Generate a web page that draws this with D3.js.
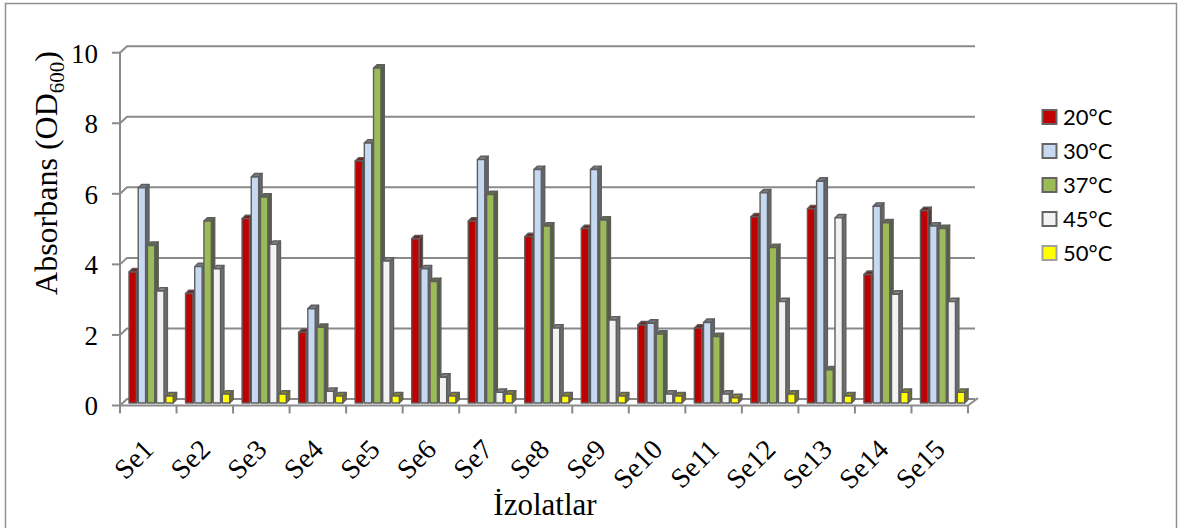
<!DOCTYPE html>
<html>
<head>
<meta charset="utf-8">
<script src="https://cdn.jsdelivr.net/npm/d3@7/dist/d3.min.js"></script>
<style>
  html, body { margin: 0; padding: 0; background: #ffffff; }
  svg { display: block; }
</style>
</head>
<body>
<svg id="chart" width="1178" height="528"></svg>
<script>
// Isolates and incubation temperatures
const categories = ["Se1","Se2","Se3","Se4","Se5","Se6","Se7","Se8","Se9","Se10","Se11","Se12","Se13","Se14","Se15"];
const seriesNames = ["20°C","30°C","37°C","45°C","50°C"];

// Absorbance (OD600) per isolate, one array per temperature
const od20 = [3.71, 3.10, 5.22, 2.00, 6.85, 4.65, 5.15, 4.71, 4.94, 2.21, 2.12, 5.27, 5.50, 3.64, 5.45];
const od30 = [6.09, 3.86, 6.40, 2.67, 7.36, 3.80, 6.89, 6.61, 6.61, 2.26, 2.28, 5.95, 6.28, 5.57, 5.01];
const od37 = [4.46, 5.15, 5.83, 2.14, 9.48, 3.44, 5.90, 5.01, 5.18, 1.95, 1.88, 4.40, 0.94, 5.10, 4.94];
const od45 = [3.17, 3.80, 4.49, 0.33, 4.02, 0.73, 0.30, 2.12, 2.35, 0.25, 0.25, 2.87, 5.24, 3.08, 2.87];
const od50 = [0.20, 0.25, 0.25, 0.20, 0.20, 0.20, 0.25, 0.20, 0.20, 0.20, 0.15, 0.25, 0.20, 0.30, 0.30];

const yTicks = [0, 2, 4, 6, 8, 10];
const seriesColors = ["#c00000", "#c6d9f1", "#9bbb59", "#f2f2f2", "#ffff00"];

const seriesValues = [od20, od30, od37, od45, od50];

const svg = d3.select("#chart");
const serif = "'Liberation Serif', 'Times New Roman', serif";
const gridColor = "#8a8a8a";

// Outer frame (left, top, right)
svg.append("path")
  .attr("d", "M5.5,530 L5.5,3.5 L1176.5,3.5 L1176.5,530")
  .attr("fill", "none").attr("stroke", "#8f8f8f").attr("stroke-width", 1.5);

// Scales
const x = d3.scaleBand().domain(categories).range([120, 968]);
const xs = d3.scaleBand().domain(seriesNames).range([9, 55]);
const yAxisScale = d3.scaleLinear().domain([0, 10]).range([405.5, 52.7]);
const yBar = d3.scaleLinear().domain([0, 10]).range([403, 49.8]);

// Depth of the back wall relative to the front axis
const DX = 7, DY = -6.5;
const xLeft = x.range()[0], xRight = x.range()[1];

// Back wall gridlines with the side-wall diagonals
const grid = svg.append("g").attr("fill", "none").attr("stroke", gridColor).attr("stroke-width", 2);
yTicks.forEach(t => {
  const yf = yAxisScale(t);
  grid.append("path")
    .attr("d", `M${xLeft},${yf} L${xLeft + DX},${yf + DY} L${xRight + DX},${yf + DY}`);
});
// Floor right edge
grid.append("path")
  .attr("d", `M${xRight},${yAxisScale(0)} L${xRight + DX + 3},${yAxisScale(0) + DY - 1}`);

// Front axes
const axes = svg.append("g").attr("stroke", gridColor).attr("stroke-width", 2).attr("fill", "none");
axes.append("line")
  .attr("x1", xLeft).attr("x2", xLeft)
  .attr("y1", yAxisScale(10)).attr("y2", yAxisScale(0));
axes.append("line")
  .attr("x1", xLeft).attr("x2", xRight)
  .attr("y1", yAxisScale(0)).attr("y2", yAxisScale(0));
yTicks.forEach(t => {
  axes.append("line")
    .attr("x1", xLeft - 8).attr("x2", xLeft)
    .attr("y1", yAxisScale(t)).attr("y2", yAxisScale(t));
});
d3.range(categories.length + 1).forEach(i => {
  const xx = xLeft + i * x.step();
  axes.append("line")
    .attr("x1", xx).attr("x2", xx)
    .attr("y1", yAxisScale(0)).attr("y2", yAxisScale(0) + 8);
});

// Bars as shaded prisms
const barW = 7.4, bd = 3.4;
const shade = (c, k) => d3.interpolateRgb(c, "#3a3a3a")(k);
const barsG = svg.append("g");
categories.forEach((cat, ci) => {
  seriesNames.forEach((s, si) => {
    const v = seriesValues[si][ci];
    const color = seriesColors[si];
    const bx = x(cat) + xs(s);
    const top = yBar(v);
    const base = yBar(0);
    const g = barsG.append("g").attr("stroke", "#5e5e5e").attr("stroke-width", 1.4).attr("stroke-linejoin", "round");
    g.append("path")
      .attr("d", `M${bx + barW},${top} L${bx + barW + bd},${top - bd} L${bx + barW + bd},${base - bd} L${bx + barW},${base} Z`)
      .attr("fill", shade(color, 0.72));
    g.append("path")
      .attr("d", `M${bx},${top} L${bx + bd},${top - bd} L${bx + barW + bd},${top - bd} L${bx + barW},${top} Z`)
      .attr("fill", shade(color, 0.6));
    g.append("rect")
      .attr("x", bx).attr("y", top)
      .attr("width", barW).attr("height", base - top)
      .attr("fill", color);
  });
});

// Y tick labels
svg.append("g").selectAll("text").data(yTicks).join("text")
  .attr("x", 98).attr("y", d => yAxisScale(d)).attr("dy", "0.37em")
  .attr("text-anchor", "end")
  .attr("font-family", serif).attr("font-size", 27).attr("fill", "#000")
  .text(d => d);

// X category labels, rotated
svg.append("g").selectAll("text").data(categories).join("text")
  .attr("transform", d => `translate(${x(d) + x.bandwidth() / 2 + 7},451) rotate(-45)`)
  .attr("text-anchor", "end")
  .attr("font-family", serif).attr("font-size", 28).attr("fill", "#000")
  .text(d => d);

// Axis titles
const yTitle = svg.append("text")
  .attr("transform", "translate(57,173) rotate(-90)")
  .attr("text-anchor", "middle")
  .attr("font-family", serif).attr("font-size", 32).attr("fill", "#000");
yTitle.append("tspan").text("Absorbans (OD");
yTitle.append("tspan").attr("font-size", 21).attr("dy", 7).text("600");
yTitle.append("tspan").attr("dy", -7).text(")");

svg.append("text")
  .attr("x", 545).attr("y", 515)
  .attr("text-anchor", "middle")
  .attr("font-family", serif).attr("font-size", 31).attr("fill", "#000")
  .text("İzolatlar");

// Legend
const legend = svg.append("g");
seriesNames.forEach((s, i) => {
  const cy = 117 + i * 34;
  legend.append("rect")
    .attr("x", 1042.5).attr("y", cy - 7)
    .attr("width", 14).attr("height", 14)
    .attr("fill", seriesColors[i])
    .attr("stroke", i === 4 ? "#a0a0a0" : "#646464").attr("stroke-width", 2);
  legend.append("text")
    .attr("x", 1063).attr("y", cy).attr("dy", "0.36em")
    .attr("font-family", "Lato, 'Open Sans', sans-serif").attr("font-size", 22).attr("fill", "#000")
    .text(s);
});
</script>
</body>
</html>
